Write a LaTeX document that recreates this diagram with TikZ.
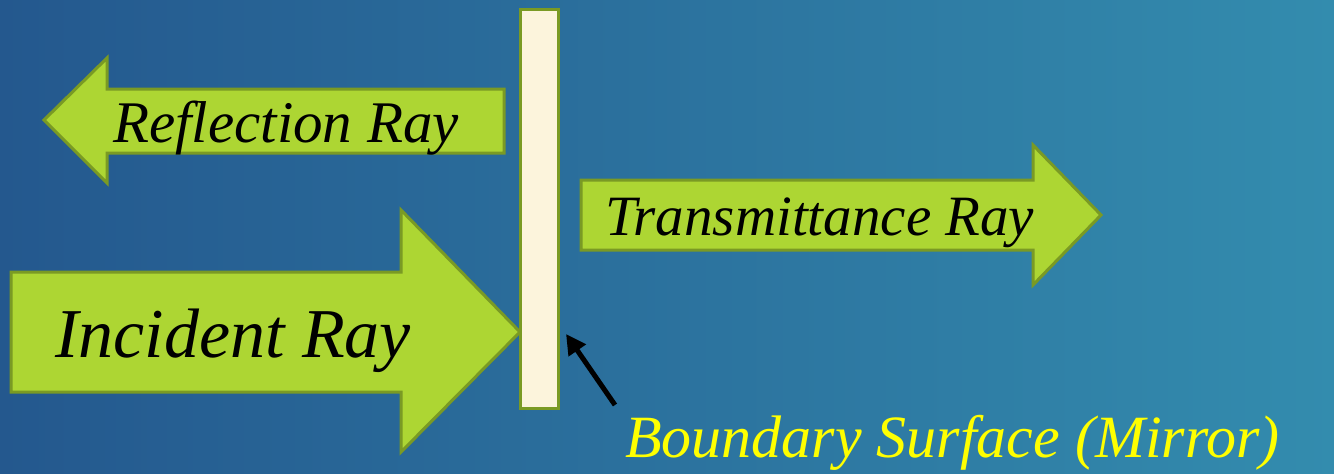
\documentclass[tikz,border=0pt]{standalone}
\usepackage{fontspec}
\newfontfamily\rayfont{Liberation Serif}
\usetikzlibrary{arrows.meta}
\definecolor{bgLeft}{HTML}{24588E}
\definecolor{bgRight}{HTML}{338CAE}
\definecolor{arrowfill}{HTML}{ADD633}
\definecolor{arrowedge}{HTML}{7A9A24}
\definecolor{mirrorfill}{HTML}{FCF4DC}
\definecolor{labelyellow}{HTML}{FFFF00}
\tikzset{
  rayshape/.style={fill=arrowfill, draw=arrowedge, line width=3pt, line join=miter},
  mirrorbox/.style={rectangle, fill=mirrorfill, draw=arrowedge, line width=3pt, inner sep=0pt},
  raytext/.style={anchor=base west, inner sep=0pt},
  pointer/.style={line width=5pt, black, -{Triangle[length=20pt,width=20pt]}}
}
\begin{document}
\begin{tikzpicture}[x=1pt,y=-1pt]
\useasboundingbox (0,0) rectangle (1334,474);
% background
\shade[left color=bgLeft, right color=bgRight] (0,0) rectangle (1334,474);
% reflection ray (pointing left)
\draw[rayshape] (44,120) -- (107,58) -- (107,89) -- (504,89) -- (504,153) -- (107,153) -- (107,183) -- cycle;
\node[raytext] (reflection) at (113,142) {\rayfont\itshape\fontsize{59}{66}\selectfont Reflection Ray};
% incident ray
\draw[rayshape] (11,272) -- (401,272) -- (401,210) -- (520,332) -- (401,452) -- (401,392) -- (11,392) -- cycle;
\node[raytext] (incident) at (55,357) {\rayfont\itshape\fontsize{70}{80}\selectfont Incident Ray};
% transmittance ray
\draw[rayshape] (581,180) -- (1033,180) -- (1033,145) -- (1101,215) -- (1033,285) -- (1033,250) -- (581,250) -- cycle;
\node[raytext] (transmit) at (605,235) {\rayfont\itshape\fontsize{57}{64}\selectfont Transmittance Ray};
% mirror
\node[mirrorbox, minimum width=38pt, minimum height=399pt] (mirror) at (539,208.5) {};
% label and pointer
\node[raytext, text=labelyellow] (boundary) at (625,457) {\rayfont\itshape\fontsize{60}{68}\selectfont Boundary Surface (Mirror)};
\coordinate (ptail) at (615,405);
\coordinate (ptip) at (566,334);
\draw[pointer] (ptail) -- (ptip);
\end{tikzpicture}
\end{document}
